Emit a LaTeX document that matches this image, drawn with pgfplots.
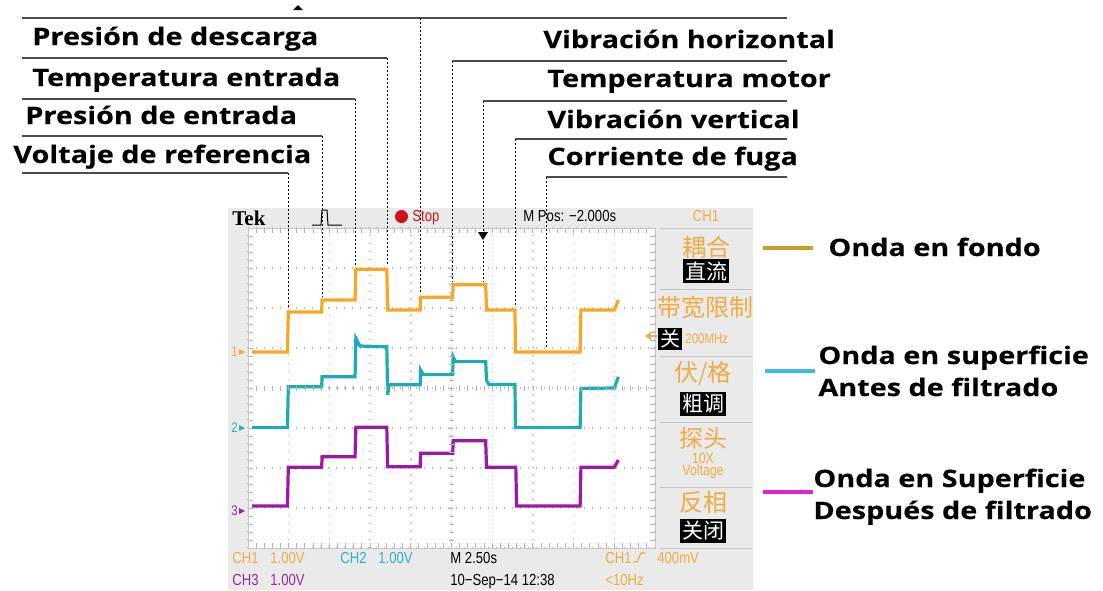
\documentclass[border=0pt]{standalone}
\usepackage{pgfplots}
\pgfplotsset{compat=1.18}
\usepackage{fontspec}
\setmainfont{Liberation Sans}
\newfontfamily\lab[FakeStretch=1.2, FakeBold=0.3]{Open Sans}
\newfontfamily\scp[FakeStretch=0.82]{Liberation Sans}
\newfontfamily\cjk{Noto Sans CJK SC}
\newfontfamily\tek{Liberation Serif}

\definecolor{tgold}{RGB}{246,168,36}
\definecolor{tcyan}{RGB}{28,172,178}
\definecolor{tmag}{RGB}{158,24,168}
\definecolor{sorange}{RGB}{240,172,64}
\definecolor{scyan}{RGB}{48,176,196}
\definecolor{smag}{RGB}{150,40,160}
\definecolor{panel}{RGB}{234,234,234}
\definecolor{lgold}{RGB}{200,158,30}
\definecolor{lcyan}{RGB}{56,190,222}
\definecolor{lmag}{RGB}{222,36,210}
\definecolor{sred}{RGB}{205,20,25}

\begin{document}
\begin{tikzpicture}
% 1 px of the reference = 0.5pt, y downwards
\begin{scope}[x=0.5pt,y=-0.5pt]
  \path (0,0) rectangle (1103,590);
  \fill[panel] (228,208) rectangle (753,590);
\end{scope}

\begin{axis}[
  at={(124pt,-274pt)}, anchor=south west, scale only axis,
  width=203.5pt, height=160pt,
  xmin=0, xmax=10, ymin=0, ymax=8,
  xtick={0,...,10}, ytick={0,...,8},
  minor x tick num=4, minor y tick num=4,
  xticklabels={}, yticklabels={},
  tick align=inside, major tick length=2.5pt, minor tick length=2.5pt,
  tick style={gray!60, line width=0.5pt},
  grid=major,
  major grid style={gray!55, line width=0.7pt, dash pattern=on 0.7pt off 3.3pt},
  axis line style={gray!45, line width=0.5pt},
  axis background/.style={fill=white},
]
% CH1 (orange)
\addplot[tgold, line width=1.6pt] coordinates {
 (0.1,4.9) (0.97,4.9) (0.99,5.9) (1.81,5.9) (1.82,6.2) (2.63,6.2) (2.65,6.97)
 (3.41,6.97) (3.43,5.95) (4.23,5.95) (4.24,6.27) (5.03,6.27) (5.04,6.58)
 (5.84,6.58) (5.86,5.95) (6.56,5.95) (6.57,4.9) (8.16,4.9) (8.18,5.95)
 (9.0,5.95) (9.1,6.2)};
% CH2 (cyan)
\addplot[tcyan, line width=1.6pt] coordinates {
 (0.1,3.01) (0.97,3.01) (0.99,4.03) (1.81,4.03) (1.82,4.28) (2.63,4.28)
 (2.65,5.24) (2.75,5.05) (3.41,5.03) (3.43,3.83) (3.47,4.08) (4.23,4.08)
 (4.24,4.45) (4.3,4.34) (5.03,4.34) (5.04,4.78) (5.1,4.66) (5.84,4.66)
 (5.86,4.2) (5.92,4.09) (6.56,4.09) (6.57,3.01) (8.16,3.01) (8.18,3.99)
 (9.0,4.0) (9.1,4.28)};
% CH3 (magenta)
\addplot[tmag, line width=1.6pt] coordinates {
 (0.1,1.05) (0.97,1.05) (0.99,2.02) (1.81,2.02) (1.82,2.28) (2.63,2.28)
 (2.65,3.02) (3.41,3.02) (3.43,2.03) (4.23,2.03) (4.24,2.37) (5.03,2.37)
 (5.04,2.68) (5.84,2.68) (5.86,2.02) (6.58,2.02) (6.6,1.05) (8.16,1.05)
 (8.18,2.02) (9.0,2.02) (9.1,2.2)};
\end{axis}

\begin{scope}[x=0.5pt,y=-0.5pt]
  % centre graticule ticks
  \foreach \k in {1,...,49} \draw[gray!60, line width=0.4pt] ({248+\k*8.14},385.5)--++(0,5);
  \foreach \k in {1,...,39} \draw[gray!60, line width=0.4pt] (449,{228+\k*8})--++(5,0);

  % top status bar
  \node[anchor=base west, inner sep=0] at (232,225) {\tek\bfseries\fontsize{10.5}{12}\selectfont Tek};
  \draw[black, line width=0.5pt] (312,225)--(321,225)--(322,210)--(327,210)--(328,225)--(342,225);
  \fill[sred] (401.5,216.5) circle (6.5);
  \node[anchor=base west, inner sep=0, text=sred] at (412,221) {\scp\fontsize{8}{9}\selectfont Stop};
  \node[anchor=base west, inner sep=0] at (523,221) {\scp\fontsize{8}{9}\selectfont M Pos: −2.000s};
  \node[anchor=base, inner sep=0, text=sorange] at (706,221) {\scp\fontsize{8}{9}\selectfont CH1};

  % channel markers
  \node[anchor=base west, inner sep=0, text=sorange] at (231,356) {\scp\fontsize{7}{8}\selectfont 1};
  \fill[sorange] (239,349)--(245,352)--(239,355)--cycle;
  \node[anchor=base west, inner sep=0, text=scyan] at (231,432) {\scp\fontsize{7}{8}\selectfont 2};
  \fill[scyan] (239,425)--(245,428)--(239,431)--cycle;
  \node[anchor=base west, inner sep=0, text=smag] at (231,515) {\scp\fontsize{7}{8}\selectfont 3};
  \fill[smag] (239,508)--(245,511)--(239,514)--cycle;
  % trigger level arrow
  \fill[sorange] (645,336)--(651,332)--(651,340)--cycle;
  \draw[sorange, line width=1pt] (650,336)--(657,336);

  % right menu panel
  \foreach \yy in {228,289,356,422,487,548} \draw[gray!45, line width=0.5pt] (660,\yy)--(752,\yy);
  \node[text=sorange, inner sep=0] at (706,247) {\cjk\fontsize{12}{13}\selectfont 耦合};
  \node[fill=black, text=white, inner sep=1pt] at (706,271) {\cjk\fontsize{10.5}{11}\selectfont 直流};
  \node[text=sorange, inner sep=0] at (705,307) {\cjk\fontsize{12}{13}\selectfont 带宽限制};
  \node[fill=black, text=white, inner sep=1pt] at (670,339) {\cjk\fontsize{10}{11}\selectfont 关};
  \node[text=sorange, anchor=west, inner sep=0] at (685,339) {\scp\fontsize{7}{8}\selectfont 200MHz};
  \node[text=sorange, inner sep=0] at (703,374) {\cjk\fontsize{12}{13}\selectfont 伏/格};
  \node[fill=black, text=white, inner sep=1pt] at (703,404) {\cjk\fontsize{10.5}{11}\selectfont 粗调};
  \node[text=sorange, inner sep=0] at (703,438) {\cjk\fontsize{12}{13}\selectfont 探头};
  \node[text=sorange, inner sep=0] at (703,458) {\scp\fontsize{7.5}{8}\selectfont 10X};
  \node[text=sorange, inner sep=0] at (703,472) {\scp\fontsize{7.5}{8}\selectfont Voltage};
  \node[text=sorange, inner sep=0] at (703,502) {\cjk\fontsize{12}{13}\selectfont 反相};
  \node[fill=black, text=white, inner sep=1pt] at (703,531) {\cjk\fontsize{10.5}{11}\selectfont 关闭};

  % bottom status bar
  \node[anchor=base west, inner sep=0, text=sorange] at (232,563) {\scp\fontsize{8}{9}\selectfont CH1};
  \node[anchor=base west, inner sep=0, text=sorange] at (270,563) {\scp\fontsize{8}{9}\selectfont 1.00V};
  \node[anchor=base west, inner sep=0, text=scyan] at (340,563) {\scp\fontsize{8}{9}\selectfont CH2};
  \node[anchor=base west, inner sep=0, text=scyan] at (378,563) {\scp\fontsize{8}{9}\selectfont 1.00V};
  \node[anchor=base west, inner sep=0] at (450,563) {\scp\fontsize{8}{9}\selectfont M 2.50s};
  \node[anchor=base west, inner sep=0, text=sorange] at (605,563) {\scp\fontsize{8}{9}\selectfont CH1};
  \draw[sorange, line width=0.6pt] (633,562)--(637,562)--(641,553)--(645,553);
  \node[anchor=base west, inner sep=0, text=sorange] at (657,563) {\scp\fontsize{8}{9}\selectfont 400mV};
  \node[anchor=base west, inner sep=0, text=smag] at (232,585) {\scp\fontsize{8}{9}\selectfont CH3};
  \node[anchor=base west, inner sep=0, text=smag] at (270,585) {\scp\fontsize{8}{9}\selectfont 1.00V};
  \node[anchor=base west, inner sep=0] at (450,585) {\scp\fontsize{8}{9}\selectfont 10−Sep−14 12:38};
  \node[anchor=base west, inner sep=0, text=sorange] at (605,585) {\scp\fontsize{8}{9}\selectfont <10Hz};

  % annotation leaders
  \tikzset{hl/.style={black!70, line width=0.75pt}, vl/.style={black, line width=0.5pt, dash pattern=on 1.2pt off 0.8pt}}
  \fill (293,10)--(298,5)--(303,10)--cycle;
  \draw[hl] (22,18)--(787,18);
  \draw[vl] (420,18)--(420,294);
  \draw[hl] (22,58)--(387,58);   \draw[vl] (387,58)--(387,266);
  \draw[hl] (22,99)--(355,99);   \draw[vl] (355,99)--(355,266);
  \draw[hl] (22,136)--(322,136); \draw[vl] (322,136)--(322,297);
  \draw[hl] (22,173)--(288,173); \draw[vl] (288,173)--(288,309);
  \draw[hl] (452,61)--(787,61);  \draw[vl] (452,61)--(452,282);
  \draw[hl] (483,101)--(787,101); \draw[vl] (483,101)--(483,282);
  \fill (478,232)--(488,232)--(483,240)--cycle;
  \draw[hl] (515,139)--(787,139); \draw[vl] (515,139)--(515,307);
  \draw[hl] (546,177)--(787,177); \draw[vl] (546,177)--(546,349);

  % annotation labels
  \tikzset{lb/.style={anchor=base west, inner sep=0, font=\lab\bfseries\fontsize{12}{14}\selectfont}}
  \node[lb] at (32,45) {Presión de descarga};
  \node[lb] at (32,86) {Temperatura entrada};
  \node[lb] at (25,124) {Presión de entrada};
  \node[lb] at (13,163) {Voltaje de referencia};
  \node[lb] at (543,48) {Vibración horizontal};
  \node[lb] at (547,87) {Temperatura motor};
  \node[lb] at (547,128) {Vibración vertical};
  \node[lb] at (547,165) {Corriente de fuga};

  % legend
  \draw[lgold, line width=2pt] (763,248)--(813,248);
  \node[lb] at (828,256) {Onda en fondo};
  \draw[lcyan, line width=2pt] (765,371)--(815,371);
  \node[lb] at (818,364) {Onda en superficie};
  \node[lb] at (818,396) {Antes de filtrado};
  \draw[lmag, line width=2pt] (763,492)--(813,492);
  \node[lb] at (813,487) {Onda en Superficie};
  \node[lb] at (813,519) {Después de filtrado};
\end{scope}
\end{tikzpicture}
\end{document}
